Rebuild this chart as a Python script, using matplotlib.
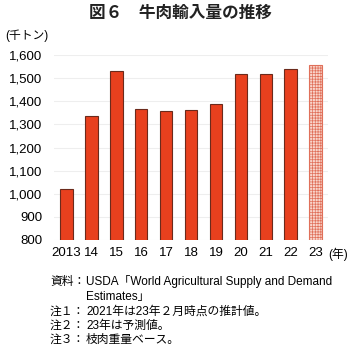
import matplotlib
matplotlib.use('Agg')
import matplotlib.pyplot as plt
import numpy as np

plt.rcParams['font.family'] = ['Liberation Sans', 'Noto Sans CJK JP', 'DejaVu Sans']
plt.rcParams['hatch.linewidth'] = 0.5

# data
years = ['2013', '14', '15', '16', '17', '18', '19', '20', '21', '22', '23']
imports = [1020, 1337, 1529, 1368, 1358, 1361, 1388, 1517, 1519, 1539, 1557]
yticks = [800, 900, 1000, 1100, 1200, 1300, 1400, 1500, 1600]
notes = [
    ('資料：', 'USDA「World Agricultural Supply and Demand'),
    ('', 'Estimates」'),
    ('注１：', '2021年は23年２月時点の推計値。'),
    ('注２：', '23年は予測値。'),
    ('注３：', '枝肉重量ベース。'),
]

red = '#e8401e'

fig = plt.figure(figsize=(3.6, 3.6), dpi=100)
ax = fig.add_axes([54/360, 1 - 240/360, (328-54)/360, (240-55)/360])

x = np.arange(len(years))
ax.bar(x[:-1], imports[:-1], width=0.5, color=red,
       edgecolor='#6b2a1c', linewidth=0.8, zorder=3)
ax.bar(x[-1], imports[-1], width=0.5, color='#f9d5cb', edgecolor='#e0705a',
       hatch='++++++', linewidth=0.8, zorder=3)

ax.set_ylim(800, 1600)
ax.set_xlim(-0.5, len(years) - 0.5)
ax.set_yticks(yticks)
ax.set_yticklabels([f'{v:,}' for v in yticks], fontsize=9.5)
ax.set_xticks(x)
ax.set_xticklabels(years, fontsize=9.5)
ax.tick_params(length=0, pad=8.5)
ax.tick_params(axis='x', pad=5)
ax.grid(axis='y', color='#eeeeee', linewidth=0.8, zorder=0)
for s in ax.spines.values():
    s.set_visible(False)

fig.text(0.5, 1 - 13/360, '図６　牛肉輸入量の推移', ha='center', va='center',
         fontsize=12, fontweight='bold', color='#222222')
fig.text(5/360, 1 - 36/360, '(千トン)', ha='left', va='center', fontsize=8.5)
fig.text(328/360, 1 - 254/360, '(年)', ha='left', va='center', fontsize=8.5)

ys = [282, 297, 312, 326, 340]
for (head, body), yy in zip(notes, ys):
    if head:
        fig.text(50/360, 1 - yy/360, head, ha='left', va='center', fontsize=8.5)
    fig.text(86/360, 1 - yy/360, body, ha='left', va='center', fontsize=8.5)

fig.savefig('out.png', dpi=100)
